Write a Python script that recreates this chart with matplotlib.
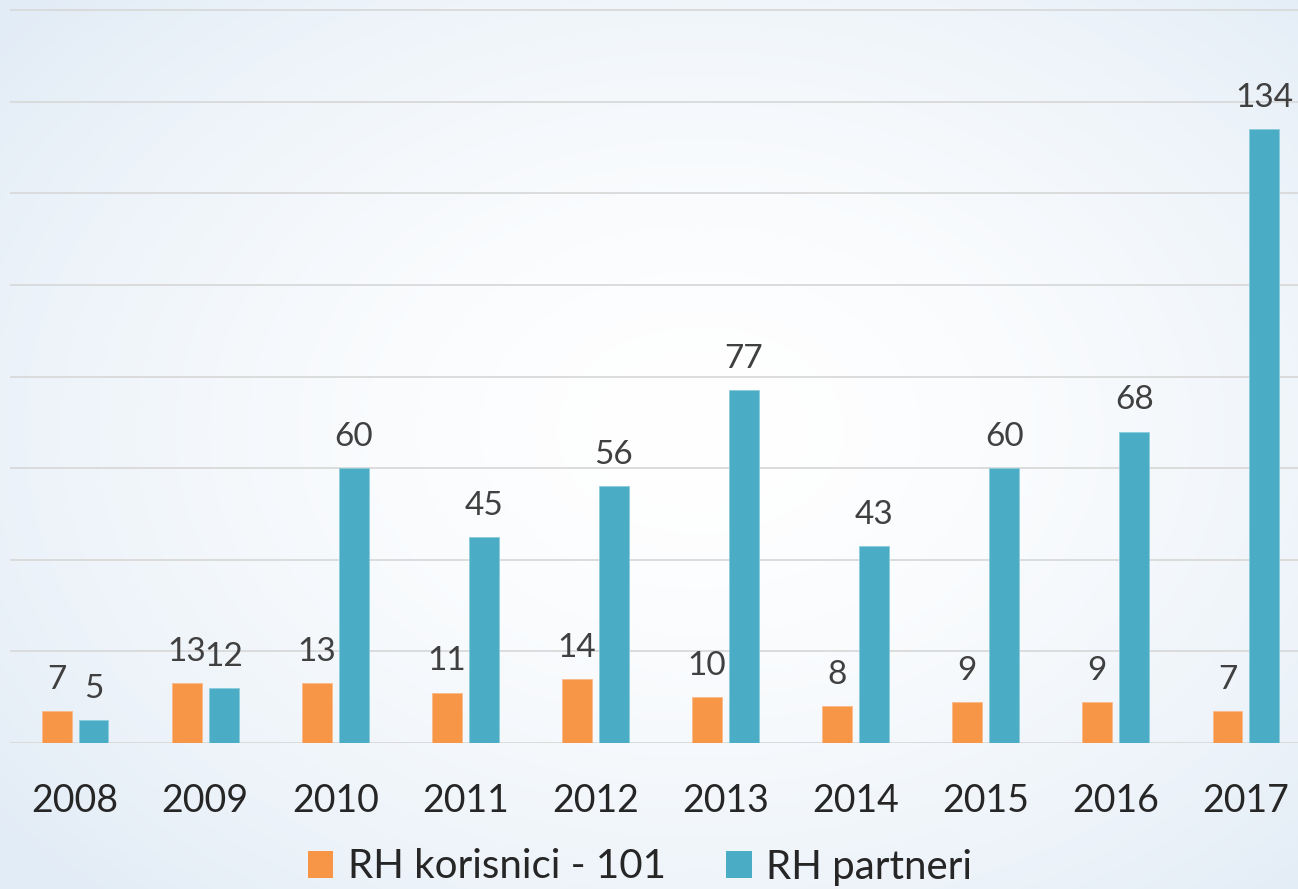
import numpy as np
import matplotlib
matplotlib.use("Agg")
import matplotlib.pyplot as plt
from matplotlib.patches import Patch

years = ["2008", "2009", "2010", "2011", "2012", "2013", "2014", "2015", "2016", "2017"]
korisnici = [7, 13, 13, 11, 14, 10, 8, 9, 9, 7]
partneri = [5, 12, 60, 45, 56, 77, 43, 60, 68, 134]
series_names = ["RH korisnici - 101", "RH partneri"]

ORANGE = "#F79646"
BLUE = "#4BACC6"
FONT = ["Lato", "DejaVu Sans"]
plt.rcParams["font.family"] = FONT

W, H = 1298, 889
fig = plt.figure(figsize=(W / 100, H / 100), dpi=100)

# background radial gradient
bg = fig.add_axes([0, 0, 1, 1], zorder=-10)
yy, xx = np.mgrid[0:H, 0:W]
r = np.sqrt(((xx - 700) / 900.0) ** 2 + ((yy - 430) / 650.0) ** 2)
r = np.clip(r, 0, 1)
c_in = np.array([1.0, 1.0, 1.0])
c_out = np.array([0xE2, 0xEC, 0xF6]) / 255.0
t = r[..., None] ** 1.6
img = c_in * (1 - t) + c_out * t
bg.imshow(img, aspect="auto", extent=[0, 1, 0, 1])
bg.axis("off")

# main axes
left = 10 / W
width = 1301 / W
bottom = (H - 743) / H
height = 743 / H
ax = fig.add_axes([left, bottom, width, height])
ax.set_facecolor("none")
x = np.arange(len(years))
bw = 0.23
off = 0.142
b1 = ax.bar(x - off, korisnici, bw, color=ORANGE, edgecolor="#FBB98A", linewidth=0.6, zorder=3)
b2 = ax.bar(x + off, partneri, bw, color=BLUE, edgecolor="#8CCCDD", linewidth=0.6, zorder=3)
ax.set_xlim(-0.5, 9.5)
ax.set_ylim(0, 162.2)
ax.set_yticks(np.arange(0, 161, 20))
ax.yaxis.grid(True, color="#D9D9D9", linewidth=1.3, zorder=0)
ax.set_yticklabels([])
ax.tick_params(axis="y", length=0)
for s in ax.spines.values():
    s.set_visible(False)
ax.set_xticks(x)
ax.set_xticklabels(years, fontsize=27, color="#262626")
ax.tick_params(axis="x", length=0, pad=29)

for bars, vals in ((b1, korisnici), (b2, partneri)):
    for rect, v in zip(bars, vals):
        ax.annotate(str(v), (rect.get_x() + rect.get_width() / 2, rect.get_height()),
                    xytext=(0, 16), textcoords="offset points", ha="center", va="baseline",
                    fontsize=24, color="#404040", zorder=4)

handles = [Patch(facecolor=ORANGE, edgecolor="none"), Patch(facecolor=BLUE, edgecolor="none")]
fig.legend(handles, series_names, loc="center", bbox_to_anchor=(640 / W, 1 - 867 / H),
           ncol=2, frameon=False, fontsize=29, labelcolor="#262626",
           handlelength=0.64, handleheight=0.64, handletextpad=0.36, columnspacing=1.5,
           borderaxespad=0, borderpad=0)

fig.savefig("out.png", dpi=100)
